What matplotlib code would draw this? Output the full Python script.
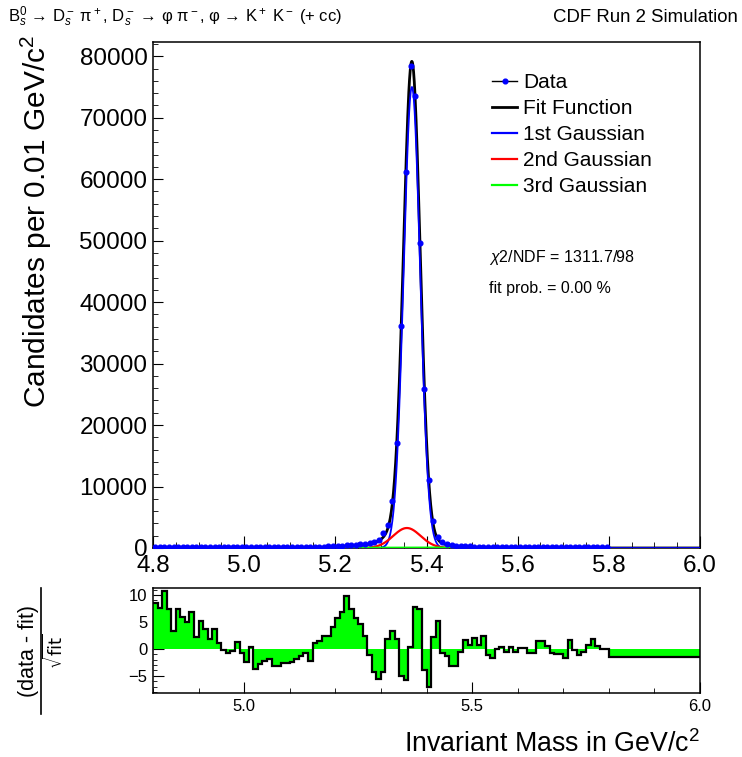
import numpy as np
import matplotlib
matplotlib.use('Agg')
import matplotlib.pyplot as plt
from matplotlib.lines import Line2D
from matplotlib.ticker import MultipleLocator, FormatStrFormatter

plt.rcParams['font.family'] = ['Liberation Sans', 'DejaVu Sans']
plt.rcParams['mathtext.fontset'] = 'custom'
plt.rcParams['mathtext.rm'] = 'Liberation Sans'
plt.rcParams['mathtext.it'] = 'Liberation Sans:italic'
plt.rcParams['mathtext.bf'] = 'Liberation Sans:bold'

# mass histogram, 0.01 GeV/c^2 bins, filled up to 5.80
mass = 4.805 + 0.01 * np.arange(100)
counts = [190, 185, 200, 180, 172, 185, 176, 170, 166, 171,
          160, 166, 151, 156, 150, 146, 141, 145, 140, 136,
          131, 135, 130, 128, 132, 135, 139, 141, 146, 151,
          158, 166, 172, 181, 190, 206, 221, 240, 266, 290,
          320, 362, 410, 470, 540, 620, 720, 820, 1000, 1300,
          2400, 3750, 7700, 17100, 36100, 61200, 78400, 73550, 49600, 25850,
          11050, 4400, 1850, 1000, 650, 480, 380, 320, 280, 250,
          230, 215, 205, 196, 186, 178, 171, 165, 160, 155,
          150, 147, 143, 140, 137, 133, 130, 127, 124, 120,
          118, 115, 112, 110, 107, 104, 100, 97, 94, 90]

# (data - fit)/sqrt(fit), 120 bins from 4.80 to 6.00
residuals = [8.5, 7.6, 10.7, 7.4, 3.4, 7.4, 6.0, 5.0, 6.8, 2.2,
             5.1, 3.7, 1.9, 3.7, 1.0, -0.2, -0.7, -0.4, 1.3, -0.8,
             -2.5, 0.3, -3.7, -2.8, -2.3, -1.9, -3.1, -3.1, -2.6, -2.7,
             -2.5, -1.9, -1.4, -0.8, -2.2, 1.0, 1.4, 2.3, 2.4, 4.0,
             5.7, 6.8, 9.9, 7.4, 5.7, 4.6, 2.3, -1.1, -4.3, -5.6,
             -4.3, 1.9, 3.3, 1.9, -5.0, -5.7, 0.4, 7.7, 7.4, -4.0,
             -7.1, 2.2, 5.2, -0.8, -1.3, -3.2, -3.2, -0.5, 1.7, 0.7,
             2.0, 0.7, 2.3, -1.1, -1.7, -0.1, 0.4, -0.6, 0.4, -0.5,
             0.1, 0.1, -0.8, -0.7, 1.5, 1.4, 0.5, -0.7, -1.0, -0.9,
             -1.7, 1.7, -0.3, -1.2, -0.6, 0.7, 1.9, 0.5, 0.0, -0.1,
             -1.5, -1.5, -1.5, -1.5, -1.5, -1.5, -1.5, -1.5, -1.5, -1.5,
             -1.5, -1.5, -1.5, -1.5, -1.5, -1.5, -1.5, -1.5, -1.5, -1.5]
edges = np.linspace(4.8, 6.0, 121)

# gaussian parameters (amplitude, mean, sigma)
g1 = (75000, 5.368, 0.018)
g2 = (3250, 5.357, 0.030)
g3 = (60, 5.370, 0.100)
tail = (1100, 5.355, 0.065)

labels = ['Data', 'Fit Function', '1st Gaussian', '2nd Gaussian', '3rd Gaussian']


def gauss(x, p):
    return p[0] * np.exp(-0.5 * ((x - p[1]) / p[2]) ** 2)


x = np.linspace(4.8, 6.0, 1500)
fit = gauss(x, g1) + gauss(x, g2) + gauss(x, g3) + gauss(x, tail)
xc = np.linspace(5.05, 5.65, 800)

fig = plt.figure(figsize=(7.42, 7.57), dpi=100)
ax = fig.add_axes([0.2062, 0.2761, 0.7372, 0.6684])
rax = fig.add_axes([0.2062, 0.0845, 0.7372, 0.1387])

ax.plot(x, fit, color='black', lw=2.0, zorder=3)
ax.plot(x, gauss(x, g1), color='#0000ff', lw=1.3, zorder=4)
ax.plot(xc, gauss(xc, g2), color='#ff0000', lw=1.6, zorder=4)
ax.plot(xc, gauss(xc, g3), color='#00ff00', lw=1.6, zorder=4)
ax.errorbar(mass, counts, yerr=np.sqrt(counts), fmt='o', color='#0000ff',
            ms=3.4, elinewidth=1, capsize=0, zorder=5)

ax.set_xlim(4.8, 6.0)
ax.set_ylim(0, 1.05 * max(counts))
ax.xaxis.set_major_locator(MultipleLocator(0.2))
ax.xaxis.set_minor_locator(MultipleLocator(0.05))
ax.xaxis.set_major_formatter(FormatStrFormatter('%.1f'))
ax.yaxis.set_major_locator(MultipleLocator(10000))
ax.yaxis.set_minor_locator(MultipleLocator(2000))
ax.tick_params(which='both', direction='in', top=False, right=False, labelsize=17.5, pad=4)
ax.tick_params(axis='x', which='major', length=8.5, pad=5)
ax.tick_params(axis='x', which='minor', length=4.3)
ax.tick_params(axis='y', which='major', length=7)
ax.tick_params(axis='y', which='minor', length=3.5)
for s in ax.spines.values():
    s.set_linewidth(1.1)
ax.set_ylabel('Candidates per 0.01 GeV/c$^2$', fontsize=21.5, loc='top')
ax.yaxis.set_label_coords(-0.181, 1.014)

handles = [Line2D([], [], color='black', lw=1, marker='o', ms=3.4, mfc='#0000ff', mec='#0000ff'),
           Line2D([], [], color='black', lw=2),
           Line2D([], [], color='#0000ff', lw=1.6),
           Line2D([], [], color='#ff0000', lw=1.6),
           Line2D([], [], color='#00ff00', lw=1.6)]
ax.legend(handles, labels, loc='upper left', bbox_to_anchor=(0.62, 0.939), frameon=False,
          fontsize=15, handlelength=1.2, handletextpad=0.3, labelspacing=0.34,
          borderpad=0, borderaxespad=0)

fig.text(489 / 742, 1 - 258 / 757, r'$\chi$2/NDF = 1311.7/98', fontsize=11.5, va='center')
fig.text(489 / 742, 1 - 289 / 757, 'fit prob. = 0.00 %', fontsize=11.5, va='center')

rax.stairs(residuals, edges, baseline=0, fill=True, color='#00ff00', zorder=2)
rax.stairs(residuals, edges, baseline=None, color='black', lw=1.6, zorder=3)
rax.set_xlim(4.8, 6.0)
rax.set_ylim(-8.2, 11.3)
rax.xaxis.set_major_locator(MultipleLocator(0.5))
rax.xaxis.set_minor_locator(MultipleLocator(0.1))
rax.xaxis.set_major_formatter(FormatStrFormatter('%.1f'))
rax.yaxis.set_major_locator(MultipleLocator(5))
rax.yaxis.set_minor_locator(MultipleLocator(1))
rax.tick_params(which='both', direction='in', top=False, right=False, labelsize=12, pad=4)
rax.tick_params(axis='x', which='major', length=8)
rax.tick_params(axis='x', which='minor', length=3.5)
rax.tick_params(axis='y', which='major', length=8)
rax.tick_params(axis='y', which='minor', length=3)
for s in rax.spines.values():
    s.set_linewidth(1.1)

# ratio y title drawn as a fraction: numerator, bar, denominator
fig.text(39 / 742, 1 - 651 / 757, '(data - fit)', rotation=90, fontsize=15.5,
         ha='right', va='center')
fig.add_artist(Line2D([41 / 742, 41 / 742], [1 - 714 / 757, 1 - 588 / 757],
                      color='black', lw=1.2, transform=fig.transFigure))
fig.text(43 / 742, 1 - 651 / 757, r'$\sqrt{\mathrm{fit}}$', rotation=90, fontsize=13,
         ha='left', va='center', math_fontfamily='dejavusans')
fig.text(700 / 742, 1 - 752 / 757, 'Invariant Mass in GeV/c$^2$', fontsize=19.3,
         ha='right', va='baseline')

fig.text(8 / 742, 1 - 17 / 757,
         'B$_s^0$ → D$_s^-$ π$^+$, D$_s^-$ → φ π$^-$, φ → K$^+$ K$^-$ (+ cc)',
         fontsize=12, ha='left', va='center')
fig.text(738 / 742, 1 - 17 / 757, 'CDF Run 2 Simulation', fontsize=13.4, ha='right', va='center')

fig.savefig('out.png', dpi=100)
